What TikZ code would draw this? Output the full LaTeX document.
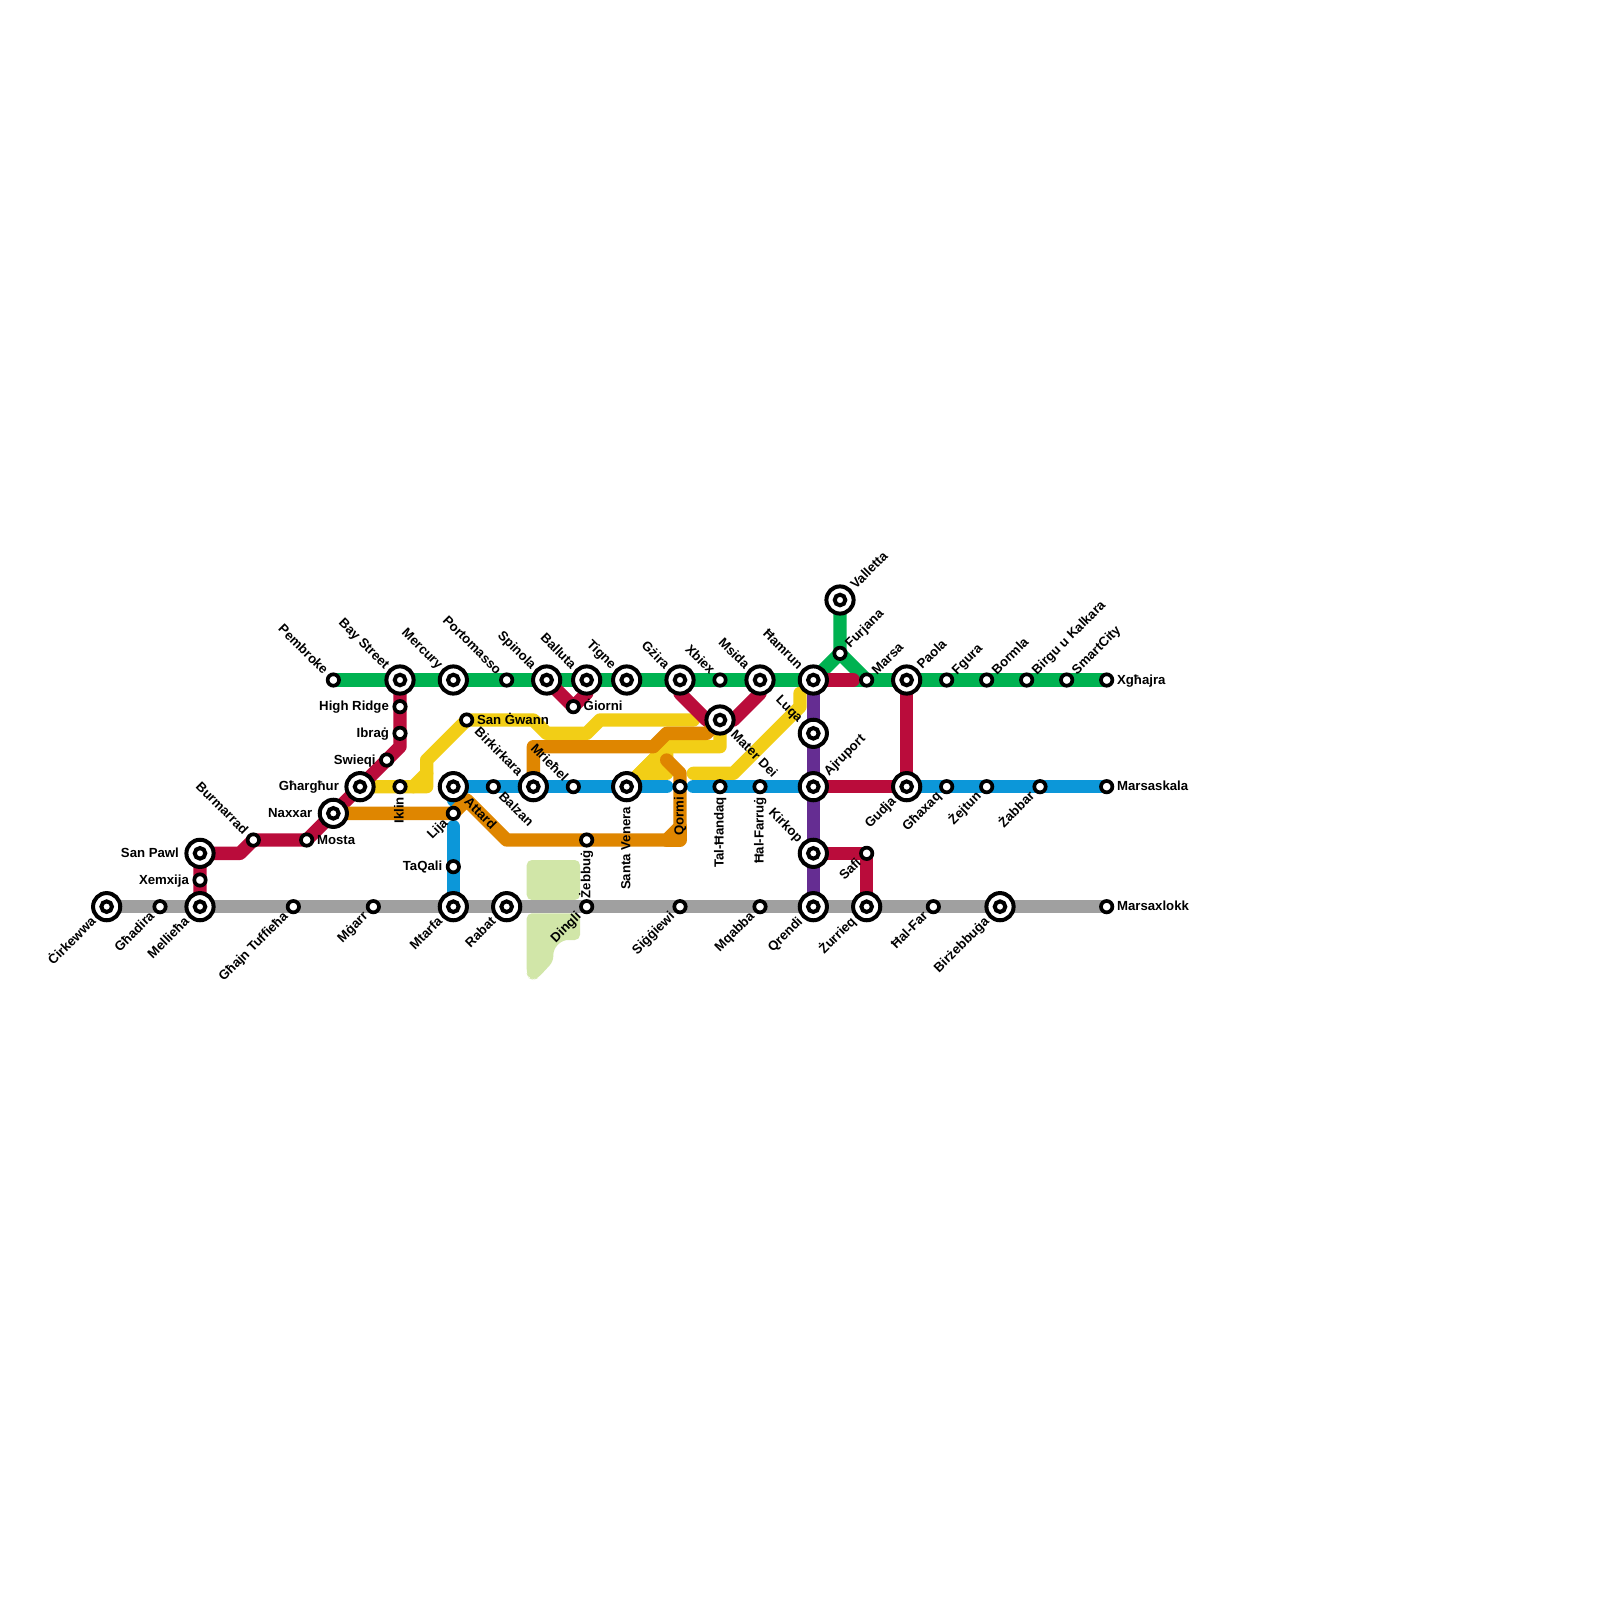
\documentclass[tikz,border=0pt]{standalone}
\usepackage{fontspec}
\setmainfont{Liberation Sans}
\pgfdeclarelayer{lines}
\pgfsetlayers{lines,main}
\definecolor{cgreen}{HTML}{00B251}
\definecolor{cred}{HTML}{BA0C3B}
\definecolor{cblue}{HTML}{0C97D9}
\definecolor{cyellow}{HTML}{F2CE16}
\definecolor{corange}{HTML}{DF8600}
\definecolor{cpurple}{HTML}{652D92}
\definecolor{cgrey}{HTML}{A0A0A0}
\definecolor{cpark}{HTML}{D1E6A8}
\tikzset{
  metro/.style={line width=6.6667pt,line cap=round,line join=round},
  parkzone/.style={fill=cpark,draw=none,rounded corners=2.6pt},
  icout/.style={circle,draw=black,fill=white,line width=2pt,inner sep=0pt,minimum size=13.6pt},
  icin/.style={circle,draw=black,fill=white,line width=2pt,inner sep=0pt,minimum size=5.3pt},
  simple/.style={circle,draw=black,fill=white,line width=1.85pt,inner sep=0pt,minimum size=5.7pt},
  lbl/.style={font=\bfseries\fontsize{6.6}{7.5}\selectfont,inner sep=0pt,text=black},
  lEs/.style={xshift=5pt,yshift=-2.1pt,anchor=base west},
  lWs/.style={xshift=-5.35pt,yshift=-2.1pt,anchor=base east},
  lWi/.style={xshift=-10.35pt,yshift=-2.1pt,anchor=base east},
  lNEs/.style={xshift=5.1pt,yshift=2.3pt,rotate=45,anchor=base west},
  lNWs/.style={xshift=-5.1pt,yshift=2.3pt,rotate=-45,anchor=base east},
  lSWs/.style={xshift=-2.3pt,yshift=-5.1pt,rotate=45,anchor=base east},
  lSEs/.style={xshift=2.3pt,yshift=-5.1pt,rotate=-45,anchor=base west},
  lNEi/.style={xshift=7.75pt,yshift=4.95pt,rotate=45,anchor=base west},
  lNWi/.style={xshift=-7.75pt,yshift=4.95pt,rotate=-45,anchor=base east},
  lSWi/.style={xshift=-4.95pt,yshift=-7.75pt,rotate=45,anchor=base east},
  lSEi/.style={xshift=4.95pt,yshift=-7.75pt,rotate=-45,anchor=base west},
  lSs/.style={xshift=1.8pt,yshift=-5pt,rotate=90,anchor=base east},
  lSi/.style={xshift=1.8pt,yshift=-10pt,rotate=90,anchor=base east},
}
\newcommand{\ic}[5]{\node[icout] (#1) at (#2,#3) {};\node[icin] (#1-i) at (#1.center) {};\node[lbl,#4] (l#1) at (#1.center) {#5};}
\newcommand{\si}[5]{\node[simple] (#1) at (#2,#3) {};\node[lbl,#4] (l#1) at (#1.center) {#5};}
\begin{document}
\begin{tikzpicture}[x=6.66667pt,y=-6.66667pt]
\useasboundingbox (0,0) rectangle (120,120);
% stations
\ic{cirkewwa}{8}{68}{lSWi}{Ċirkewwa}
\si{ghadira}{12}{68}{lSWs}{Għadira}
\ic{mellieha}{15}{68}{lSWi}{Mellieħa}
\si{xemxija}{15}{66}{lWs}{Xemxija}
\ic{sanpawl}{15}{64}{lWi}{San Pawl}
\si{burmarrad}{19}{63}{lNWs}{Burmarrad}
\si{mosta}{23}{63}{lEs}{Mosta}
\ic{naxxar}{25}{61}{lWi}{Naxxar}
\ic{gharghur}{27}{59}{lWi}{Għargħur}
\si{swieqi}{29}{57}{lWs}{Swieqi}
\si{iklin}{30}{59}{lSs}{Iklin}
\si{ibrag}{30}{55}{lWs}{Ibraġ}
\si{highridge}{30}{53}{lWs}{High Ridge}
\ic{baystreet}{30}{51}{lNWi}{Bay Street}
\si{pembroke}{25}{51}{lNWs}{Pembroke}
\ic{mercury}{34}{51}{lNWi}{Mercury}
\si{portomasso}{38}{51}{lNWs}{Portomasso}
\ic{spinola}{41}{51}{lNWi}{Spinola}
\ic{balluta}{44}{51}{lNWi}{Balluta}
\ic{tigne}{47}{51}{lNWi}{Tigne}
\ic{gzira}{51}{51}{lNWi}{Gżira}
\si{xbiex}{54}{51}{lNWs}{Xbiex}
\ic{msida}{57}{51}{lNWi}{Msida}
\ic{hamrun}{61}{51}{lNWi}{Ħamrun}
\si{marsa}{65}{51}{lNEs}{Marsa}
\si{furjana}{63}{49}{lNEs}{Furjana}
\ic{valletta}{63}{45}{lNEi}{Valletta}
\ic{paola}{68}{51}{lNEi}{Paola}
\si{fgura}{71}{51}{lNEs}{Fgura}
\si{bormla}{74}{51}{lNEs}{Bormla}
\si{birgu}{77}{51}{lNEs}{Birgu u Kalkara}
\si{smartcity}{80}{51}{lNEs}{SmartCity}
\si{xghajra}{83}{51}{lEs}{Xgħajra}
\si{giorni}{43}{53}{lEs}{Ġiorni}
\si{sangwann}{35}{54}{lEs}{San Ġwann}
\ic{materdei}{54}{54}{lSEi}{Mater Dei}
\ic{luqa}{61}{55}{lNWi}{Luqa}
\ic{ajruport}{61}{59}{lNEi}{Ajruport}
\ic{kirkop}{61}{64}{lNWi}{Kirkop}
\si{safi}{65}{64}{lSWs}{Safi}
\ic{qrendi}{61}{68}{lSWi}{Qrendi}
\ic{zurrieq}{65}{68}{lSWi}{Żurrieq}
\si{halfar}{70}{68}{lSWs}{Ħal-Far}
\ic{birzebbuga}{75}{68}{lSWi}{Birżebbuġa}
\si{marsaxlokk}{83}{68}{lEs}{Marsaxlokk}
\ic{gudja}{68}{59}{lSWi}{Gudja}
\si{ghaxaq}{71}{59}{lSWs}{Għaxaq}
\si{zejtun}{74}{59}{lSWs}{Żejtun}
\si{zabbar}{78}{59}{lSWs}{Żabbar}
\si{marsaskala}{83}{59}{lEs}{Marsaskala}
\si{halfarrug}{57}{59}{lSs}{Ħal-Farruġ}
\si{talhandaq}{54}{59}{lSs}{Tal-Ħandaq}
\si{qormi}{51}{59}{lSs}{Qormi}
\ic{santavenera}{47}{59}{lSi}{Santa Venera}
\si{mriehel}{43}{59}{lNWs}{Mrieħel}
\ic{birkirkara}{40}{59}{lNWi}{Birkirkara}
\si{balzan}{37}{59}{lSEs}{Balzan}
\ic{attard}{34}{59}{lSEi}{Attard}
\si{lija}{34}{61}{lSWs}{Lija}
\si{taqali}{34}{65}{lWs}{TaQali}
\ic{mtarfa}{34}{68}{lSWi}{Mtarfa}
\ic{rabat}{38}{68}{lSWi}{Rabat}
\si{dingli}{44}{68}{lSWs}{Dingli}
\si{zebbug}{44}{63}{lSs}{Żebbuġ}
\si{siggiewi}{51}{68}{lSWs}{Siġġiewi}
\si{mqabba}{57}{68}{lSWs}{Mqabba}
\si{ghajn}{22}{68}{lSWs}{Għajn Tuffieħa}
\si{mgarr}{28}{68}{lSWs}{Mġarr}
% lines, under the stations
\begin{pgfonlayer}{lines}
\fill[white] (0,0) rectangle (120,120);
\fill[parkzone] (39.5,64.5) -- (43.5,64.5) -- (43.5,67.5) -- (39.5,67.5) -- cycle;
\fill[parkzone] (39.5,68.5) -- (43.5,68.5) -- (43.5,70.5) -- (42.2,70.5) -- (41.5,71.2) -- (41.5,72.1) -- (40.35,73.35) -- (40,73.5) -- (39.65,73.35) -- (39.5,73) -- cycle;
% bend points
\coordinate (rA) at (18,64); \coordinate (rB) at (19,63); \coordinate (rC) at (30,56);
\coordinate (rD) at (44,52); \coordinate (rE) at (64,51);
\coordinate (rF) at (15,64); \coordinate (rG) at (65,64);
\coordinate (rH) at (51,52); \coordinate (rI) at (53,54); \coordinate (rJ) at (55,54); \coordinate (rK) at (57,52);
\coordinate (oA) at (34,61); \coordinate (oB) at (35,60); \coordinate (oC) at (38,63);
\coordinate (oD) at (50,63); \coordinate (oE) at (51,62); \coordinate (oF) at (51,58);
\coordinate (oG) at (50,57); \coordinate (oH) at (51,63);
\coordinate (oI) at (40,56); \coordinate (oJ) at (49,56); \coordinate (oK) at (50,55); \coordinate (oL) at (53,55);
\coordinate (yA) at (32,59); \coordinate (yB) at (32,57); \coordinate (yC) at (31,59); \coordinate (yD) at (32,58);
\coordinate (yE) at (40,54); \coordinate (yF) at (41,55); \coordinate (yG) at (44,55); \coordinate (yH) at (45,54); \coordinate (yI) at (52,54);
\coordinate (yJ) at (50,56); \coordinate (yK) at (54,56);
\coordinate (yL) at (48,58); \coordinate (yM) at (50,58); \coordinate (yN) at (49,57);
\coordinate (yO) at (52,58); \coordinate (yP) at (55,58); \coordinate (yQ) at (60,53); \coordinate (yR) at (60,52);
\coordinate (bA) at (50,59); \coordinate (bB) at (52,59); \coordinate (bC) at (34,60); \coordinate (bD) at (34,62);
% lines
\draw[metro,cgrey] (cirkewwa.center) -- (marsaxlokk.center);
\draw[metro,cgreen] (pembroke.center) -- (xghajra.center);
\draw[metro,cgreen] (valletta.center) -- (furjana.center) -- (hamrun.center);
\draw[metro,cgreen] (furjana.center) -- (marsa.center);
\draw[metro,cyellow] (gharghur.center) -- (yA) -- (yB) -- (sangwann.center) -- (yE) -- (yF) -- (yG) -- (yH) -- (yI);
\draw[metro,cyellow] (yC) -- (yD);
\draw[metro,cyellow,fill=cyellow] (santavenera.center) -- (yJ) -- (yM) -- (yL) -- cycle;
\draw[metro,cyellow] (santavenera.center) -- (yJ) -- (yK) -- (materdei.center);
\draw[metro,cyellow] (yO) -- (yP) -- (yQ) -- (yR);
\draw[metro,cblue] (attard.center) -- (bA);
\draw[metro,cblue] (bB) -- (marsaskala.center);
\draw[metro,cblue] (attard.center) -- (bC);
\draw[metro,cblue] (bD) -- (mtarfa.center);
\draw[metro,cred] (mellieha.center) -- (rF) -- (rA) -- (rB) -- (mosta.center) -- (rC) -- (baystreet.center);
\draw[metro,cred] (spinola.center) -- (giorni.center) -- (rD) -- (balluta.center);
\draw[metro,cred] (gzira.center) -- (rH) -- (rI) -- (rJ) -- (rK) -- (msida.center);
\draw[metro,cred] (hamrun.center) -- (rE);
\draw[metro,cred] (paola.center) -- (gudja.center) -- (ajruport.center);
\draw[metro,cred] (kirkop.center) -- (rG) -- (zurrieq.center);
\draw[metro,cpurple] (hamrun.center) -- (qrendi.center);
\draw[metro,corange] (naxxar.center) -- (oA) -- (oB) -- (oC) -- (oD) -- (oE) -- (oF) -- (oG);
\draw[metro,corange] (oD) -- (oH) -- (oE);
\draw[metro,corange] (birkirkara.center) -- (oI) -- (oJ) -- (oK) -- (oL) -- (materdei.center);
\end{pgfonlayer}
\end{tikzpicture}
\end{document}
